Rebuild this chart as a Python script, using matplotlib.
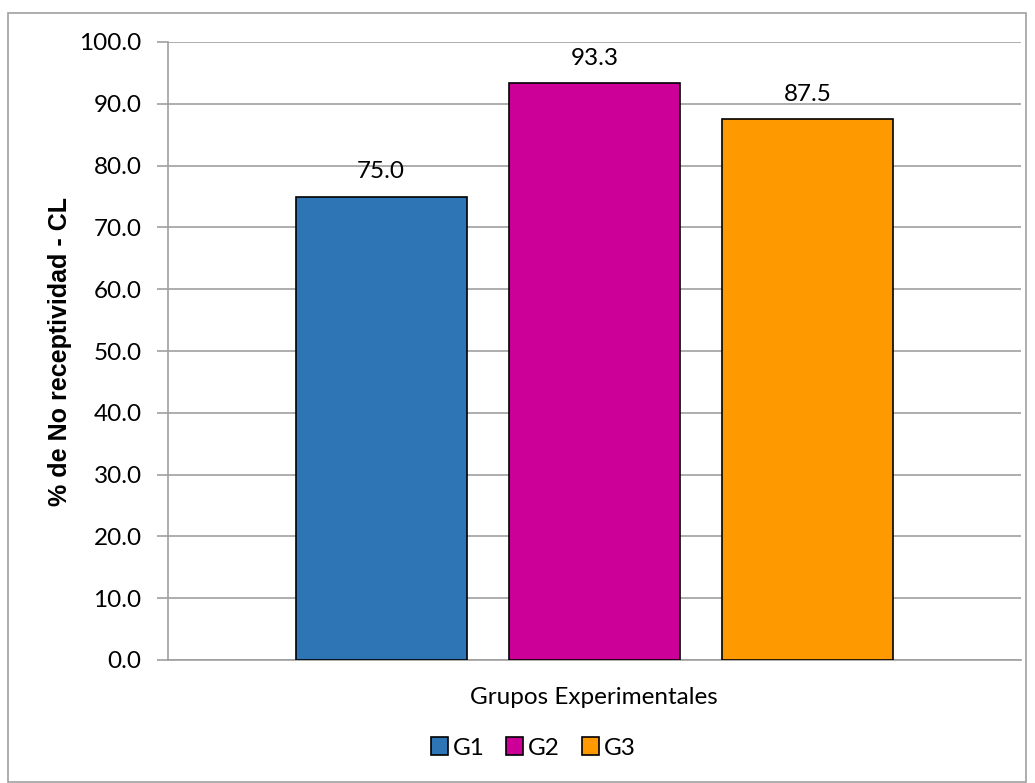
import matplotlib
matplotlib.use("Agg")
import matplotlib.pyplot as plt
from matplotlib.patches import Rectangle, Patch

groups = ["G1", "G2", "G3"]
values = [75.0, 93.3, 87.5]
colors = ["#2E75B6", "#CC0099", "#FF9900"]
yticks = [0, 10, 20, 30, 40, 50, 60, 70, 80, 90, 100]

plt.rcParams['font.family'] = ['Lato', 'DejaVu Sans']
FS = 17.5

W, H = 1035, 783
fig = plt.figure(figsize=(W/100, H/100), dpi=100)
ax = fig.add_axes([168/W, 1-660/H, (1021-168)/W, (660-42)/H])

# outer border
fig.patches.append(Rectangle((8/W, 1/H), (W-9)/W - 8/W, (H-13)/H - 1/H,
                             transform=fig.transFigure, fill=False,
                             edgecolor="#A0A0A0", linewidth=1.2))

positions = [0.25, 0.5, 0.75]
for x, v, c in zip(positions, values, colors):
    ax.bar(x, v, width=0.2, color=c, edgecolor="black", linewidth=1.2, zorder=3)
    ax.text(x, v + 2.3, f"{v:.1f}", ha="center", va="bottom", fontsize=FS, color="#000000")

ax.set_xlim(0, 1)
ax.set_ylim(0, 100)
ax.set_yticks(yticks)
ax.set_yticklabels([f"{t:.1f}" for t in yticks], fontsize=FS)
ax.set_xticks([])
ax.yaxis.grid(True, color="#A0A0A0", linewidth=1.2, zorder=0)
ax.tick_params(axis='y', length=8, width=1.2, color="#A0A0A0", pad=11)
for s in ["top", "right"]:
    ax.spines[s].set_visible(False)
for s in ["left", "bottom"]:
    ax.spines[s].set_color("#A0A0A0")
    ax.spines[s].set_linewidth(1.2)

fig.text(60/W, 1-351/H, "% de No receptividad - CL", rotation=90, ha="center", va="center",
         fontsize=18, fontweight="bold", family=["Liberation Sans", "DejaVu Sans"])
fig.text(594/W, 1-698/H, "Grupos Experimentales", ha="center", va="center", fontsize=FS)

handles = [Patch(facecolor=c, edgecolor="black", linewidth=1.2) for c in colors]
fig.legend(handles, groups, loc="center", bbox_to_anchor=(533/W, 1-748/H), ncol=3,
           frameon=False, fontsize=FS, handlelength=0.7, handleheight=0.7,
           handletextpad=0.2, columnspacing=0.9)

fig.savefig("out.png", dpi=100)
